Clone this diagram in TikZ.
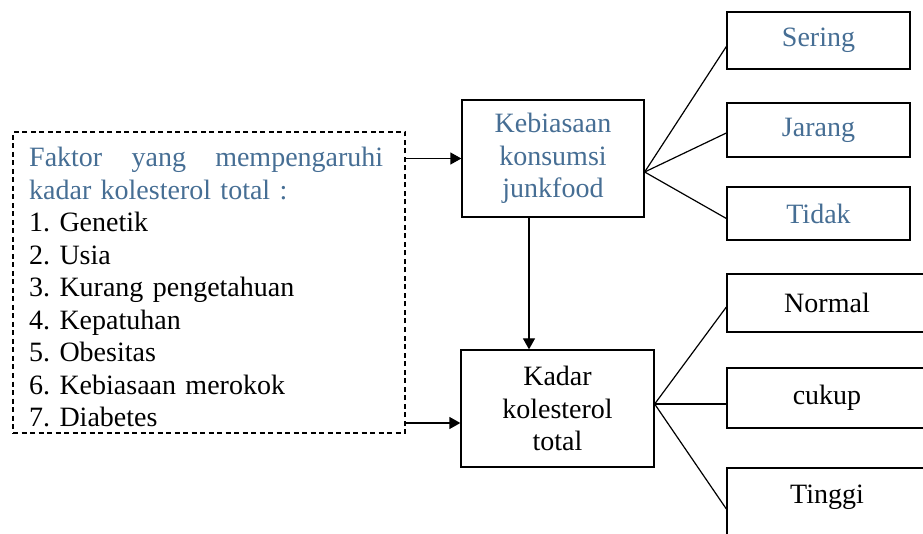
\documentclass[tikz,border=0pt]{standalone}
\usepackage{fontspec}
\setmainfont{Liberation Serif}
\usepackage{tikz}
\usetikzlibrary{positioning,arrows.meta}
\definecolor{biru}{RGB}{70,110,148}
\frenchspacing

\begin{document}
\begin{tikzpicture}[x=1pt, y=1pt,
  kotak/.style={draw=black, line width=1.3pt, fill=white, text=#1,
    font=\fontsize{28}{32.5}\selectfont, align=center, inner sep=0pt},
  kotak/.default=black,
  putus/.style={draw=black, line width=1.3pt, dash pattern=on 5pt off 3.5pt,
    inner sep=0pt},
  daftar/.style={font=\fontsize{28}{32.5}\selectfont, text width=354pt,
    align=left, inner sep=0pt},
  panah/.style={line width=1.3pt, -{Triangle[length=11pt,width=12pt]}},
  garis/.style={line width=1.2pt},
]
  \useasboundingbox (0,0) rectangle (923,-534);
  \clip (0,0) rectangle (923,-534);
  % ---- Faktor (kiri) ----
  \node[putus, minimum width=392pt, minimum height=301pt] (faktor) at (209,-282.5) {};
  \node[daftar, anchor=base west] (isi) at (29,-167)
    {\hbox to 354pt{\color{biru}Faktor\hfill yang\hfill mempengaruhi}\\
     \textcolor{biru}{kadar kolesterol total :}\\
     1. Genetik\\
     2. Usia\\
     3. Kurang pengetahuan\\
     4. Kepatuhan\\
     5. Obesitas\\
     6. Kebiasaan merokok\\
     7. Diabetes};
  % ---- Variabel (tengah) ----
  \node[kotak=biru, minimum width=182pt, minimum height=117pt] (keb) at (553,-158.5)
    {Kebiasaan\\konsumsi\\junkfood};
  \node[kotak, minimum width=193pt, minimum height=117pt] (kadar) at (557.5,-408.5)
    {Kadar\\kolesterol\\total};
  % ---- Kategori (kanan) ----
  \node[kotak=biru, minimum width=183pt, minimum height=57pt] (sering) at (818.5,-40.5) {Sering};
  \node[kotak=biru, minimum width=183pt, minimum height=54pt] (jarang) at (818.5,-130) {Jarang};
  \node[kotak=biru, minimum width=183pt, minimum height=53pt] (tidak) at (818.5,-213.5) {Tidak};
  \node[kotak, minimum width=200pt, minimum height=58pt] (normal) at (827,-303) {Normal};
  \node[kotak, minimum width=200pt, minimum height=60pt] (cukup) at (827,-398) {cukup};
  \node[kotak, minimum width=200pt, minimum height=80pt, text depth=27pt] (tinggi) at (827,-508) {Tinggi};
  % ---- Hubungan ----
  \coordinate (masuk) at ([yshift=-14.5pt]kadar.west);
  \coordinate (turun) at ([xshift=-24pt]keb.south);
  \draw[panah] (faktor.east |- keb.west) -- (keb.west);
  \draw[panah] (faktor.east |- masuk) -- (masuk);
  \draw[panah] (turun) -- (turun |- kadar.north);
  \coordinate (cabang1) at ([yshift=-13.5pt]keb.east);
  \coordinate (cabang2) at ([yshift=4.5pt]kadar.east);
  \draw[garis] (cabang1) -- ([yshift=-6pt]sering.west);
  \draw[garis] (cabang1) -- ([yshift=-3pt]jarang.west);
  \draw[garis] (cabang1) -- ([yshift=-5pt]tidak.west);
  \draw[garis] (cabang2) -- ([yshift=-4pt]normal.west);
  \draw[garis] (cabang2) -- ([yshift=-6pt]cukup.west);
  \draw[garis] (cabang2) -- ([yshift=-1pt]tinggi.west);
\end{tikzpicture}
\end{document}
